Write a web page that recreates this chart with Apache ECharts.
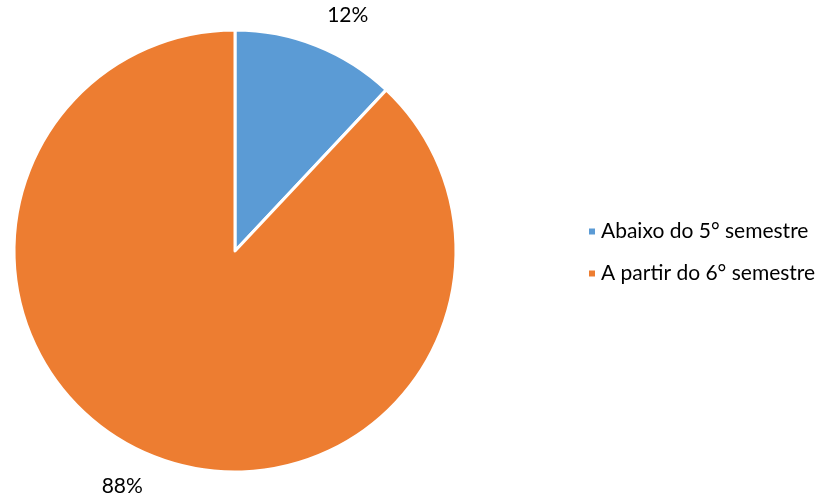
<!DOCTYPE html>
<html>
<head>
<meta charset="utf-8">
<script src="https://cdn.jsdelivr.net/npm/echarts@6/dist/echarts.min.js"></script>
<style>
  html, body { margin: 0; padding: 0; background: #fff; }
  #main { width: 831px; height: 500px; }
</style>
</head>
<body>
<div id="main"></div>
<script>
var categories = ['Abaixo do 5° semestre', 'A partir do 6° semestre'];
var values = [12, 88];
var colors = ['#5B9BD5', '#ED7D31'];

var font = 'Lato, "Open Sans", sans-serif';

var myChart = echarts.init(document.getElementById('main'));
myChart.setOption({
  animation: false,
  color: colors,
  legend: {
    orient: 'vertical',
    left: 587,
    top: 221,
    padding: 0,
    icon: 'rect',
    itemWidth: 8,
    itemHeight: 8,
    itemGap: 21,
    textStyle: { fontFamily: font, fontSize: 21, color: '#000' },
    data: categories
  },
  series: [
    {
      type: 'pie',
      center: [235, 251],
      radius: [0, 221],
      startAngle: 90,
      clockwise: true,
      label: { show: false },
      labelLine: { show: false },
      itemStyle: { borderColor: '#fff', borderWidth: 3 },
      data: categories.map(function (name, i) {
        return { name: name, value: values[i] };
      })
    },
    {
      // invisible ring carrying the percentage labels
      type: 'pie',
      center: [235, 251],
      radius: [238, 278],
      startAngle: 86,
      silent: true,
      legendHoverLink: false,
      itemStyle: { color: 'rgba(0,0,0,0)' },
      label: {
        show: true,
        position: 'inside',
        formatter: '{c}%',
        fontFamily: font,
        fontSize: 21,
        color: '#000'
      },
      labelLine: { show: false },
      data: values.map(function (v, i) {
        return { name: 'lbl' + i, value: v };
      })
    }
  ]
});
</script>
</body>
</html>
